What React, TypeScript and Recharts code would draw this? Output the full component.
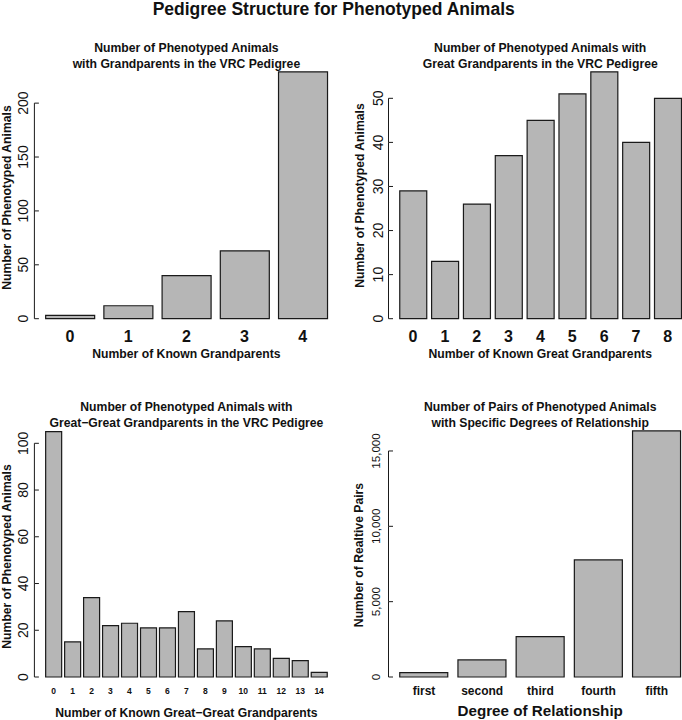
import React from 'react';
import { BarChart, Bar, XAxis, YAxis } from 'recharts';

// Number of known grandparents
const gpLabels = ['0', '1', '2', '3', '4'];
const gpCounts = [3, 12, 40, 63, 229];
const gpTicks = [0, 50, 100, 150, 200];

// Number of known great grandparents
const ggpLabels = ['0', '1', '2', '3', '4', '5', '6', '7', '8'];
const ggpCounts = [29, 13, 26, 37, 45, 51, 56, 40, 50];
const ggpTicks = [0, 10, 20, 30, 40, 50];

// Number of known great-great grandparents
const gggpLabels = ['0', '1', '2', '3', '4', '5', '6', '7', '8', '9', '10', '11', '12', '13', '14'];
const gggpCounts = [105, 15, 34, 22, 23, 21, 21, 28, 12, 24, 13, 12, 8, 7, 2];
const gggpTicks = [0, 20, 40, 60, 80, 100];

// Pairs by degree of relationship
const degreeLabels = ['first', 'second', 'third', 'fourth', 'fifth'];
const pairCounts = [290, 1130, 2680, 7770, 16330];
const pairTicks = [0, 5000, 10000, 15000];

const FONT = '"Liberation Sans", Arial, Helvetica, sans-serif';
const BAR_FILL = '#b6b6b6';
const INK = '#1a1a1a';

// mimic R barplot: space = 0.2, 4% axis extension
function rPadding(plotW: number, n: number) {
  const span = 1.2 * n - 0.2;
  const unit = plotW / (span * 1.08);
  return unit * span * 0.04 - unit * 0.1;
}

interface PanelProps {
  left: number;
  top: number;
  width: number;
  height: number;
  labels: string[];
  values: number[];
  ticks: number[];
  yAxisW: number;
  marginTop: number;
  marginRight: number;
  xAxisH: number;
  xFont: number;
  xDy: number;
  yFont: number;
  yOff: number;
  fmt?: (v: number) => string;
}

function Panel(p: PanelProps) {
  const data = p.labels.map((name, i) => ({ name, value: p.values[i] }));
  const plotW = p.width - p.yAxisW - p.marginRight;
  const plotH = p.height - p.marginTop - p.xAxisH;
  const pad = rPadding(plotW, p.labels.length);
  const top = Math.max(...p.values) * 1.04;
  const fmt = p.fmt || ((v: number) => String(v));

  // R style axis: line only spans the tick range, ticks point inward
  const yTick = (t: any) => {
    const i = p.ticks.indexOf(t.payload.value);
    const next = p.ticks[i + 1];
    const seg = next === undefined ? 0 : ((next - t.payload.value) * plotH) / top;
    return (
      <g>
        <line x1={t.x} x2={t.x + 4.5} y1={t.y} y2={t.y} stroke={INK} strokeWidth={1} />
        {seg > 0 && <line x1={t.x} x2={t.x} y1={t.y} y2={t.y - seg} stroke={INK} strokeWidth={1} />}
        <text
          transform={`translate(${t.x - p.yOff},${t.y}) rotate(-90)`}
          textAnchor="middle"
          fontSize={p.yFont}
          fontFamily={FONT}
          fill="#111"
        >
          {fmt(t.payload.value)}
        </text>
      </g>
    );
  };

  const xTick = (t: any) => (
    <text
      x={t.x}
      y={t.y + p.xDy}
      textAnchor="middle"
      fontSize={p.xFont}
      fontWeight="bold"
      fontFamily={FONT}
      fill="#111"
    >
      {t.payload.value}
    </text>
  );

  return (
    <div style={{ position: 'absolute', left: p.left, top: p.top }}>
      <BarChart
        width={p.width}
        height={p.height}
        data={data}
        margin={{ top: p.marginTop, right: p.marginRight, left: 0, bottom: 0 }}
        barCategoryGap="8.333%"
      >
        <XAxis
          dataKey="name"
          height={p.xAxisH}
          axisLine={false}
          tickLine={false}
          tickSize={0}
          tickMargin={0}
          interval={0}
          padding={{ left: pad, right: pad }}
          tick={xTick}
        />
        <YAxis
          width={p.yAxisW}
          domain={[0, top]}
          ticks={p.ticks}
          axisLine={false}
          tickLine={false}
          tickSize={0}
          tickMargin={0}
          interval={0}
          tick={yTick}
        />
        <Bar dataKey="value" fill={BAR_FILL} stroke={INK} strokeWidth={1.2} isAnimationActive={false} />
      </BarChart>
    </div>
  );
}

const titleStyle = { fontFamily: FONT, fontWeight: 'bold' as const, fill: '#111' };

export default function App() {
  const comma = (v: number) => v.toLocaleString('en-US');
  return (
    <div
      style={{
        position: 'absolute',
        left: 0,
        top: 0,
        width: 682,
        height: 720,
        overflow: 'hidden',
        background: '#fff',
      }}
    >
      <Panel
        left={0} top={0} width={341} height={360}
        labels={gpLabels} values={gpCounts} ticks={gpTicks}
        yAxisW={34.4} marginTop={62} marginRight={2.7} xAxisH={41.3}
        xFont={16} xDy={22.8} yFont={14} yOff={6}
      />
      <Panel
        left={341} top={0} width={354} height={360}
        labels={ggpLabels} values={ggpCounts} ticks={ggpTicks}
        yAxisW={47.5} marginTop={62} marginRight={2.7} xAxisH={41.3}
        xFont={16} xDy={22.8} yFont={14} yOff={6}
      />
      <Panel
        left={0} top={360} width={341} height={360}
        labels={gggpLabels} values={gggpCounts} ticks={gggpTicks}
        yAxisW={34.4} marginTop={61.8} marginRight={2.7} xAxisH={43}
        xFont={8.5} xDy={16.5} yFont={14} yOff={6}
      />
      <Panel
        left={341} top={360} width={354} height={360}
        labels={degreeLabels} values={pairCounts} ticks={pairTicks}
        yAxisW={47.5} marginTop={61.1} marginRight={2.7} xAxisH={43}
        xFont={12} xDy={18} yFont={11.6} yOff={8.4} fmt={comma}
      />
      <svg
        width={682}
        height={720}
        style={{ position: 'absolute', left: 0, top: 0, pointerEvents: 'none' }}
      >
        <text x={333.7} y={14.5} textAnchor="middle" fontSize={17.5} {...titleStyle}>
          Pedigree Structure for Phenotyped Animals
        </text>

        <text x={186.4} y={52.3} textAnchor="middle" fontSize={12.2} {...titleStyle}>
          Number of Phenotyped Animals
        </text>
        <text x={186.4} y={68.3} textAnchor="middle" fontSize={12.2} {...titleStyle}>
          with Grandparents in the VRC Pedigree
        </text>
        <text x={186.4} y={357.5} textAnchor="middle" fontSize={12.2} {...titleStyle}>
          Number of Known Grandparents
        </text>
        <text transform="translate(10.5,197.5) rotate(-90)" textAnchor="middle" fontSize={12.2} {...titleStyle}>
          Number of Phenotyped Animals
        </text>

        <text x={540.2} y={52.3} textAnchor="middle" fontSize={12.2} {...titleStyle}>
          Number of Phenotyped Animals with
        </text>
        <text x={540.2} y={68.3} textAnchor="middle" fontSize={12.2} {...titleStyle}>
          Great Grandparents in the VRC Pedigree
        </text>
        <text x={540.2} y={357.5} textAnchor="middle" fontSize={12.2} {...titleStyle}>
          Number of Known Great Grandparents
        </text>
        <text transform="translate(363.7,195.5) rotate(-90)" textAnchor="middle" fontSize={12.2} {...titleStyle}>
          Number of Phenotyped Animals
        </text>

        <text x={186.4} y={410.7} textAnchor="middle" fontSize={12.2} {...titleStyle}>
          Number of Phenotyped Animals with
        </text>
        <text x={186.4} y={426.7} textAnchor="middle" fontSize={12.2} {...titleStyle}>
          Great−Great Grandparents in the VRC Pedigree
        </text>
        <text x={186.4} y={716.5} textAnchor="middle" fontSize={12.2} {...titleStyle}>
          Number of Known Great−Great Grandparents
        </text>
        <text transform="translate(10.5,556.5) rotate(-90)" textAnchor="middle" fontSize={12.2} {...titleStyle}>
          Number of Phenotyped Animals
        </text>

        <text x={540.2} y={410.7} textAnchor="middle" fontSize={12.2} {...titleStyle}>
          Number of Pairs of Phenotyped Animals
        </text>
        <text x={540.2} y={426.7} textAnchor="middle" fontSize={12.2} {...titleStyle}>
          with Specific Degrees of Relationship
        </text>
        <text x={540.2} y={716} textAnchor="middle" fontSize={15.2} {...titleStyle}>
          Degree of Relationship
        </text>
        <text transform="translate(363.4,555) rotate(-90)" textAnchor="middle" fontSize={12.2} {...titleStyle}>
          Number of Realtive Pairs
        </text>
      </svg>
    </div>
  );
}
